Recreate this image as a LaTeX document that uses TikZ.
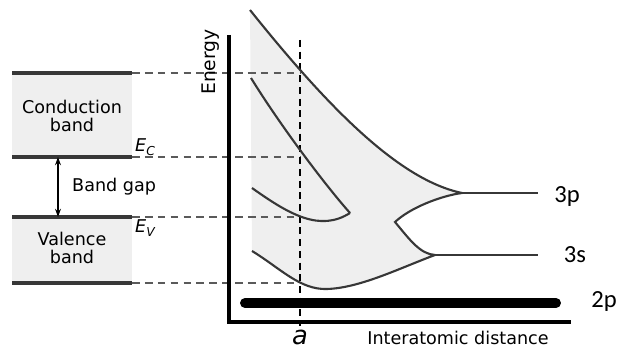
\documentclass[tikz,border=0pt]{standalone}
\usepackage{fontspec}
\setmainfont{DejaVu Sans}
\newfontfamily\orbfont{Carlito}
\usetikzlibrary{arrows.meta,positioning,calc}
\definecolor{bandgray}{RGB}{239,239,239}
\definecolor{linegray}{RGB}{55,55,55}
\definecolor{dashgray}{RGB}{90,90,90}

\begin{document}
\begin{tikzpicture}[x=0.03cm,y=-0.03cm,
  bandline/.style={linegray,line width=3pt},
  guide/.style={dashgray,line width=2pt,dash pattern=on 6.5pt off 4.5pt},
  curve/.style={linegray,line width=1.8pt},
  lbl/.style={font=\fontsize{15}{16}\selectfont,align=center,inner sep=0pt},
  orb/.style={font=\orbfont\fontsize{21}{21}\selectfont,inner sep=0pt}]
  \useasboundingbox (0,0) rectangle (619,349);
  % flat bands on the left
  \fill[bandgray] (12,73) rectangle (132,157);
  \fill[bandgray] (12,217) rectangle (132,283);
  % the spread of the levels with distance
  \coordinate (p3) at (462,193); \coordinate (s3) at (435,255);
  \coordinate (notch) at (395,222); \coordinate (tip) at (350,213);
  \fill[bandgray] (250,10) .. controls (330,110) and (400,180) .. (p3)
    .. controls (440,196) and (410,208) .. (notch) .. controls (410,240) and (420,254) .. (s3)
    .. controls (400,268) and (360,288) .. (327,289) .. controls (300,290) and (280,268) .. (252,251) -- cycle;
  \foreach \y in {73,157,217,283} {
    \draw[bandline] (12,\y) -- (132,\y);
    \draw[guide] (132,\y) -- (300,\y);
  }
  \draw[black,line width=1.5pt,dash pattern=on 6pt off 4pt] (300,40) -- (300,326);
  \draw[curve] (250,10) .. controls (330,110) and (400,180) .. (p3)
    .. controls (440,196) and (410,208) .. (notch) .. controls (410,240) and (420,254) .. (s3)
    .. controls (400,268) and (360,288) .. (327,289) .. controls (300,290) and (280,268) .. (252,251);
  \draw[curve] (251,78) .. controls (280,125) and (325,185) .. (tip);
  \draw[curve] (252,188) .. controls (290,215) and (320,232) .. (tip);
  \draw[curve] (p3) -- (538,193);
  \draw[curve] (s3) -- (538,255);
  \draw[black,line width=8.5pt,line cap=round] (245,303) -- (556,303);
  % axes
  \draw[black,line width=3pt] (229,35) -- (229,322) -- (571,322);
  % labels
  \node[lbl] (cond) at (72,116) {Conduction\\band};
  \node[lbl] (val) at (72,248) {Valence\\band};
  \node[lbl,anchor=west] (gap) at (72,187) {Band gap};
  \coordinate (gtop) at (58,157); \coordinate (gbot) at (58,217);
  \draw[{Stealth[length=7pt,width=5pt]}-{Stealth[length=7pt,width=5pt]},line width=1.2pt] (gtop) -- (gbot);
  \node[anchor=base west,inner sep=0pt,font=\fontsize{15}{15}\selectfont\itshape] (ec) at (135,152) {E\textsubscript{C}};
  \node[anchor=base west,inner sep=0pt,font=\fontsize{15}{15}\selectfont\itshape] (ev) at (135,233) {E\textsubscript{V}};
  \node[inner sep=0pt,rotate=90,font=\fontsize{16}{16}\selectfont] (energy) at (211,62) {Energy};
  \node[inner sep=0pt,font=\fontsize{22}{22}\selectfont\itshape] (a) at (300,337) {a};
  \node[lbl] (dist) at (458,338) {Interatomic distance};
  \node[orb] (l3p) at (567,197) {3p};
  \node[orb] (l3s) at (575,255) {3s};
  \node[orb] (l2p) at (604,302) {2p};
\end{tikzpicture}
\end{document}
